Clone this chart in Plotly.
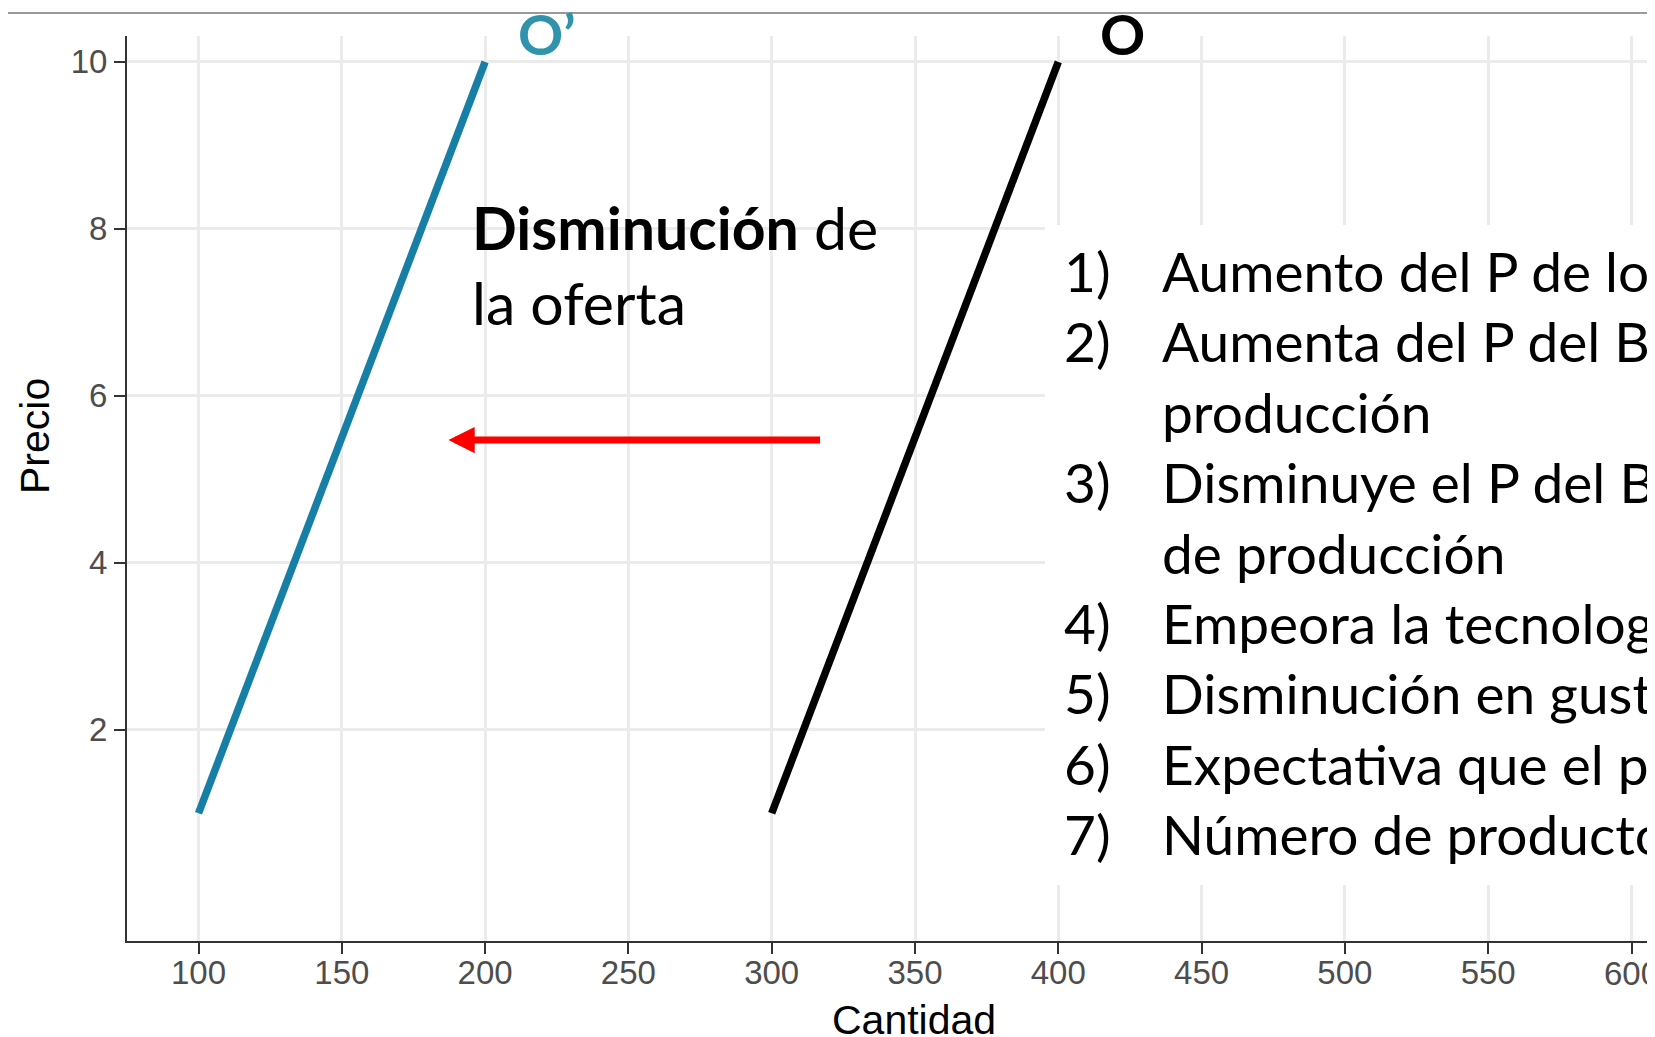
import plotly.graph_objects as go

# ---- datos ----
precio = [1, 10]
oferta_q = [300, 400]          # O (original)
oferta_nueva_q = [100, 200]    # O' (disminución)

x_ticks = [100, 150, 200, 250, 300, 350, 400, 450, 500, 550, 600]
y_ticks = [2, 4, 6, 8, 10]

flecha_desde_q = 317.4
flecha_hasta_q = 187.2
flecha_precio = 5.47

items_num = ["1)", "2)", "", "3)", "", "4)", "5)", "6)", "7)"]
items_txt = [
    "Aumento del P de los",
    "Aumenta del P del B",
    "producción",
    "Disminuye el P del B",
    "de producción",
    "Empeora la tecnología",
    "Disminución en gustos",
    "Expectativa que el precio",
    "Número de productores",
]

# la página deja 8px de margen (body), se compensa aquí
OFF = 8
W, H = 1655 - OFF, 1037 - OFF
L, R, T, B = 127 - OFF, 0, 36 - OFF, 96


def px(x):  # x en px de la página -> paper
    return (x - OFF - L) / (W - L - R)


def py(y):  # y en px de la página -> paper
    return (H - B - (y - OFF)) / (H - B - T)


fig = go.Figure()
fig.add_trace(go.Scatter(x=oferta_nueva_q, y=precio, mode="lines",
                         line=dict(color="#177fa6", width=7.5), showlegend=False))
fig.add_trace(go.Scatter(x=oferta_q, y=precio, mode="lines",
                         line=dict(color="black", width=7.5), showlegend=False))

CAL = "Lato, 'Open Sans', sans-serif"
ARIAL = "Liberation Sans, Arial"
ann = []

# flecha roja
ann.append(dict(x=flecha_hasta_q, y=flecha_precio, ax=flecha_desde_q, ay=flecha_precio,
                xref="x", yref="y", axref="x", ayref="y", text="", showarrow=True,
                arrowhead=2, arrowsize=0.75, arrowwidth=7, arrowcolor="red", standoff=0))

# etiquetas de curvas
ann.append(dict(x=px(516), y=py(34), xref="paper", yref="paper", text="<b>O’</b>",
                showarrow=False, xanchor="left", yanchor="middle",
                font=dict(family=CAL, size=56, color="#2f93ab")))
ann.append(dict(x=px(1098), y=py(34), xref="paper", yref="paper", text="<b>O</b>",
                showarrow=False, xanchor="left", yanchor="middle",
                font=dict(family=CAL, size=56, color="black")))

# texto central
ann.append(dict(x=px(470), y=py(227), xref="paper", yref="paper",
                text="<b>Disminución</b> de", showarrow=False, xanchor="left", yanchor="middle",
                font=dict(family=CAL, size=59, color="black")))
ann.append(dict(x=px(470), y=py(302), xref="paper", yref="paper",
                text="la oferta", showarrow=False, xanchor="left", yanchor="middle",
                font=dict(family=CAL, size=59, color="black")))

# lista de factores
for i, (n, t) in enumerate(zip(items_num, items_txt)):
    yc = 271 + i * 70.4
    if n:
        ann.append(dict(x=px(1062), y=py(yc), xref="paper", yref="paper", text=n,
                        showarrow=False, xanchor="left", yanchor="middle",
                        font=dict(family=CAL, size=55, color="black")))
    ann.append(dict(x=px(1160), y=py(yc), xref="paper", yref="paper", text=t,
                    showarrow=False, xanchor="left", yanchor="middle",
                    font=dict(family=CAL, size=55, color="black")))

# etiqueta 600 (plotly la oculta al quedar en el borde)
ann.append(dict(x=x_ticks[-1], y=py(973), xref="x", yref="paper", text=str(x_ticks[-1]),
                showarrow=False, xanchor="center", yanchor="middle",
                font=dict(family=ARIAL, size=33, color="#4d4d4d")))

# titulos de ejes
ann.append(dict(x=px(914), y=py(1020), xref="paper", yref="paper", text="Cantidad",
                showarrow=False, xanchor="center", yanchor="middle",
                font=dict(family=ARIAL, size=41, color="black")))
ann.append(dict(x=px(35), y=py(436), xref="paper", yref="paper", text="Precio",
                showarrow=False, xanchor="center", yanchor="middle", textangle=-90,
                font=dict(family=ARIAL, size=41, color="black")))

shapes = [
    # caja blanca detrás de la lista
    dict(type="rect", xref="paper", yref="paper", x0=px(1045), x1=1.0,
         y0=py(885), y1=py(225), fillcolor="white", line=dict(width=0), layer="above"),
    # línea gris superior de la diapositiva
    dict(type="line", xref="paper", yref="paper", x0=px(OFF), x1=1.0,
         y0=py(13), y1=py(13), line=dict(color="#9a9a9a", width=2), layer="below"),
]

fig.update_layout(
    width=W, height=H,
    margin=dict(l=L, r=R, t=T, b=B),
    plot_bgcolor="white", paper_bgcolor="white",
    annotations=ann, shapes=shapes, showlegend=False,
)
axis_common = dict(showgrid=True, gridcolor="#ebebeb", gridwidth=3,
                   showline=True, linecolor="#333333", linewidth=2,
                   ticks="outside", ticklen=11, tickwidth=2, tickcolor="#333333",
                   tickfont=dict(family=ARIAL, size=33, color="#4d4d4d"),
                   zeroline=False)
fig.update_xaxes(range=[75.05, 608.2], tickvals=x_ticks, ticklabelstandoff=-10, **axis_common)
fig.update_yaxes(range=[-0.53, 10.31], tickvals=y_ticks, **axis_common)

fig.write_html("out.html")
